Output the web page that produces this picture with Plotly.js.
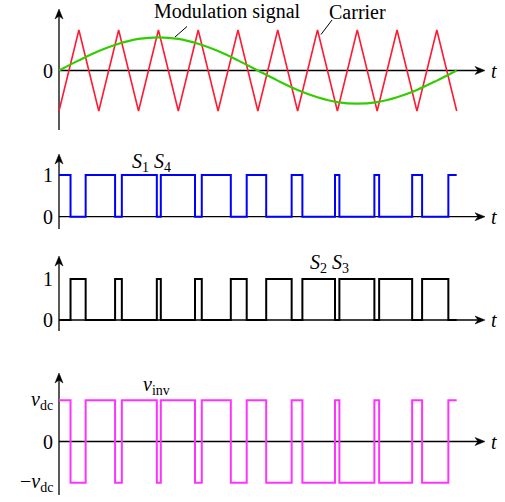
<!DOCTYPE html>
<html><head><meta charset="utf-8">
<script src="https://cdn.plot.ly/plotly-3.0.1.min.js"></script>
<style>html,body{margin:0;padding:0;background:#fff}#c{width:505px;height:502px}</style>
</head><body><div id="c"></div>
<script>
// ---- data (time in carrier periods) ----
var carrierT = [0,0.5,1,1.5,2,2.5,3,3.5,4,4.5,5,5.5,6,6.5,7,7.5,8,8.5,9,9.5,10];
var carrierV = [-1,1,-1,1,-1,1,-1,1,-1,1,-1,1,-1,1,-1,1,-1,1,-1,1,-1];
var modT = [0,0.5,1,1.5,2,2.5,3,3.5,4,4.5,5,5.5,6,6.5,7,7.5,8,8.5,9,9.5,10];
var modV = [0,0.25,0.48,0.66,0.78,0.82,0.78,0.66,0.48,0.25,0,-0.25,-0.48,-0.66,-0.78,-0.82,-0.78,-0.66,-0.48,-0.25,0];
var s14Edges = [0.29,0.67,1.41,1.58,2.46,2.56,3.42,3.59,4.32,4.72,5.21,5.85,6.12,6.94,7.05,7.93,8.05,8.88,9.13,9.79];
var s14Start = 1;
var tEnd = 10;

// ---- build step series ----
var stepT = [0], s14 = [s14Start];
var cur = s14Start;
s14Edges.forEach(function(e){ cur = 1 - cur; stepT.push(e); s14.push(cur); });
stepT.push(tEnd); s14.push(cur);
var s23 = s14.map(function(v){ return 1 - v; });
var vinv = s14.map(function(v,i){ return v - s23[i]; });

// ---- geometry helpers ----
var W = 505, H = 502;
var x0px = 59, tUnit = 39.77;
function xr(px){ return (px - x0px)/tUnit; }
var panels = [
  {top:5,   bot:135, zero:70.5,  unit:40.5, tail:130, tip:9},
  {top:145, bot:235, zero:216.7, unit:41.7, tail:229, tip:154},
  {top:245, bot:338, zero:320,   unit:41,   tail:331, tip:256},
  {top:360, bot:500, zero:441.5, unit:41.2, tail:495, tip:373}
];
function val(p, py){ return (p.zero - py)/p.unit; }
function px(x){ return x/W; }
function py(y){ return 1 - y/H; }

var layout = {
  width: W, height: H, margin:{l:0,r:0,t:0,b:0},
  paper_bgcolor:'#fff', plot_bgcolor:'rgba(0,0,0,0)', showlegend:false,
  xaxis:{range:[xr(0), xr(W)], visible:false, domain:[0,1]},
  annotations:[], shapes:[]
};
var yn = ['yaxis','yaxis2','yaxis3','yaxis4'];
var yr = ['y','y2','y3','y4'];
var F = {family:'Liberation Serif', size:20, color:'#000'};

function seg(x1,y1,x2,y2,w){
  layout.shapes.push({type:'line', xref:'paper', yref:'paper', x0:px(x1), y0:py(y1), x1:px(x2), y1:py(y2),
    line:{color:'#000', width:w||1}, layer:'below'});
}
function head(pts){
  var d = 'M' + pts.map(function(q){ return px(q[0]) + ',' + py(q[1]); }).join(' L') + ' Z';
  layout.shapes.push({type:'path', xref:'paper', yref:'paper', path:d, fillcolor:'#000', line:{color:'#000', width:0.5}});
}
var XA = 59, XT = 485;
panels.forEach(function(p,i){
  layout[yn[i]] = {domain:[1 - p.bot/H, 1 - p.top/H], range:[val(p,p.bot), val(p,p.top)], visible:false, anchor:'x'};
  seg(XA, p.tail, XA, p.tip + 6, 1.3);
  head([[XA, p.tip],[XA-4, p.tip+10],[XA, p.tip+7],[XA+4, p.tip+10]]);
  seg(XA, p.zero, XT - 6, p.zero, 1.3);
  head([[XT, p.zero],[XT-10, p.zero-4],[XT-7, p.zero],[XT-10, p.zero+4]]);
  layout.annotations.push({x:px(494), y:0, xref:'paper', yref:yr[i], text:'<i>t</i>', showarrow:false,
    xanchor:'center', yanchor:'middle', font:F});
});

function sub(s){ return '<sub>' + s + '</sub>'; }
function tick(i, v, txt){
  layout.annotations.push({x:px(55), y:v, xref:'paper', yref:yr[i], text:txt, showarrow:false,
    xanchor:'right', yanchor:'middle', font:F});
}
tick(0,0,'0');
tick(1,1,'1'); tick(1,0,'0');
tick(2,1,'1'); tick(2,0,'0');
tick(3,1,'<i>v</i>' + sub('dc')); tick(3,0,'0'); tick(3,-1,'−<i>v</i>' + sub('dc'));

function lab(x, y, txt){
  layout.annotations.push({x:px(x), y:py(y), xref:'paper', yref:'paper', text:txt, showarrow:false,
    xanchor:'center', yanchor:'middle', font:F});
}
lab(227, 12, 'Modulation signal');
lab(357, 12, 'Carrier');
lab(151, 163, '<i>S</i>' + sub('1') + ' <i>S</i>' + sub('4'));
lab(329, 263, '<i>S</i>' + sub('2') + ' <i>S</i>' + sub('3'));
lab(156, 385, '<i>v</i>' + sub('inv'));

seg(187,26.5,175,37);
seg(332,20,321,34.5);

var traces = [
  {x:carrierT, y:carrierV, xaxis:'x', yaxis:'y', mode:'lines', line:{color:'#ff1a33', width:1.6}},
  {x:modT, y:modV, xaxis:'x', yaxis:'y', mode:'lines', line:{color:'#33cc00', width:2.2, shape:'spline'}},
  {x:stepT, y:s14, xaxis:'x', yaxis:'y2', mode:'lines', line:{color:'#0000ff', width:2, shape:'hv'}},
  {x:stepT, y:s23, xaxis:'x', yaxis:'y3', mode:'lines', line:{color:'#000000', width:2, shape:'hv'}},
  {x:stepT, y:vinv, xaxis:'x', yaxis:'y4', mode:'lines', line:{color:'#ff33ff', width:2, shape:'hv'}}
];
Plotly.newPlot('c', traces, layout, {staticPlot:true, displayModeBar:false});
</script></body></html>
